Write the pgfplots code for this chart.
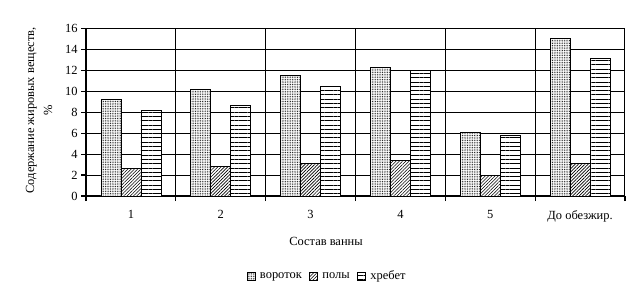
\documentclass[border=0pt]{standalone}
\usepackage{fontspec}
\setmainfont{Liberation Serif}
\usepackage{pgfplots}
\pgfplotsset{compat=1.18}
\usetikzlibrary{patterns.meta}

\begin{document}
\begin{tikzpicture}
\useasboundingbox (-86bp,-101bp) rectangle (555bp,196bp);
\begin{axis}[
  at={(0,0)}, anchor=south west,
  scale only axis, width=539bp, height=167.5bp,
  font=\fontsize{12.5}{14}\selectfont,
  /pgf/number format/assume math mode=true,
  xmin=-0.5, xmax=5.5, ymin=0, ymax=16,
  ybar=0pt, bar width=0.2227,
  axis x line*=bottom, axis y line*=left,
  axis line style={-, line width=1.6bp, black},
  ytick={0,2,...,16}, ymajorgrids,
  xtick={-0.5,0.5,...,5.5}, xticklabels={}, xmajorgrids,
  extra x ticks={0,1,2,3,4,5},
  extra x tick labels={1,2,3,4,5,До обезжир.},
  extra x tick style={major tick length=0pt, grid=none},
  xticklabel style={yshift=-11bp},
  tick align=outside,
  major tick length=5bp,
  tick style={black, line width=1.2bp},
  grid style={black, line width=1bp},
  xlabel={Состав ванны},
  xlabel style={at={(axis description cs:0.5,0)}, anchor=center, xshift=-29.5bp, yshift=-45bp},
  ylabel={Содержание жировых веществ,\\\%},
  % the label is rotated, so yshift moves it sideways and xshift moves it along the axis
  ylabel style={at={(axis description cs:0,0.5)}, anchor=center, align=center,
    font=\fontsize{12.5}{18}\selectfont, yshift=47bp, xshift=2bp},
  legend style={at={(axis description cs:0.447,0)}, anchor=center, yshift=-80bp,
    draw=none, fill=none, legend columns=-1,
    /tikz/column 1/.style={column sep=3bp},
    /tikz/column 2/.style={column sep=6bp},
    /tikz/column 3/.style={column sep=3bp},
    /tikz/column 4/.style={column sep=6bp},
    /tikz/column 5/.style={column sep=3bp},
    nodes={inner xsep=1.5bp}},
  legend image code/.code={\draw[#1, line width=0.6bp] (0bp,-4bp) rectangle (8bp,4bp);},
]
% вороток
\addplot[draw=black, line width=0.8bp, fill=white,
  postaction={pattern={Dots[distance=1.7bp, radius=0.5bp]}}]
  coordinates {(0,9.2) (1,10.2) (2,11.5) (3,12.3) (4,6.1) (5,15.1)};
% полы
\addplot[draw=black, line width=0.8bp, fill=white,
  postaction={pattern={Lines[angle=45, distance=2.3bp, line width=0.6bp]}}]
  coordinates {(0,2.6) (1,2.8) (2,3.1) (3,3.4) (4,2.0) (5,3.1)};
% хребет
\addplot[draw=black, line width=0.8bp, fill=white,
  postaction={pattern={Lines[angle=0, distance=4.3bp, line width=0.8bp]}}]
  coordinates {(0,8.2) (1,8.7) (2,10.5) (3,12.0) (4,5.8) (5,13.1)};
\legend{вороток, полы, хребет}
\end{axis}
\end{tikzpicture}
\end{document}
